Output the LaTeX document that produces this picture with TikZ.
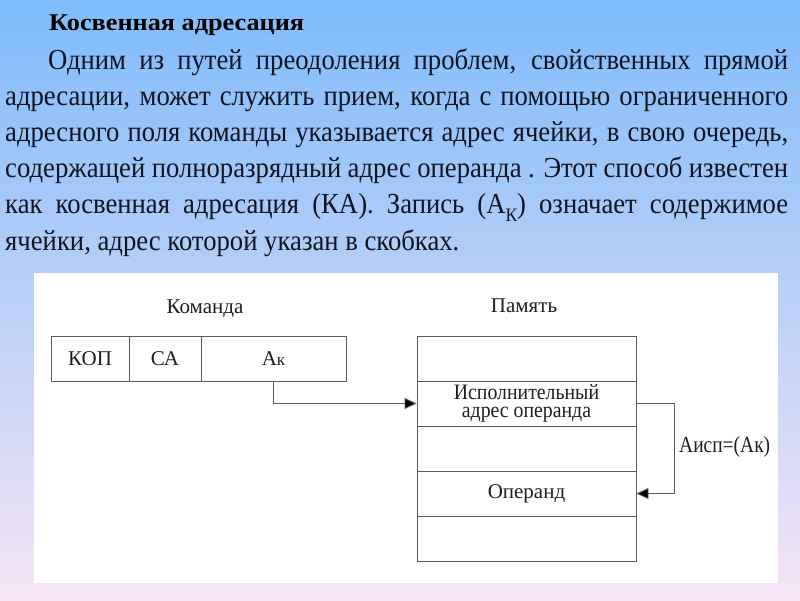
\documentclass[tikz,border=0pt]{standalone}
\usepackage{fontspec}
\usepackage{graphicx}
\setmainfont{Liberation Serif}
\newfontfamily\bodyf[FakeStretch=0.92]{Liberation Serif}
\newfontfamily\condf[FakeStretch=0.9]{Liberation Serif}
\usetikzlibrary{arrows.meta}
\definecolor{bgtop}{RGB}{126,188,250}
\definecolor{bgmid}{RGB}{180,208,240}
\definecolor{bgbot}{RGB}{246,229,246}
\definecolor{textc}{RGB}{16,20,34}
\definecolor{linec}{RGB}{90,90,90}
\definecolor{dtext}{RGB}{30,30,30}
\newcommand{\bodysize}{\bodyf\fontsize{29}{36}\selectfont}
\newcommand{\dfont}{\fontsize{21}{18}\selectfont}
\newcommand{\cfont}{\condf\fontsize{22}{17.5}\selectfont}
\begin{document}
\begin{tikzpicture}[x=1pt,y=-1pt,
  txt/.style={inner sep=0pt, anchor=base west, text=textc, font=\bodysize},
  ttl/.style={inner sep=0pt, anchor=base, text=dtext, font=\dfont},
  cell/.style={draw=linec, line width=0.9pt, minimum height=45pt, inner sep=0pt, text=dtext, font=\dfont, align=center},
  arr/.style={draw=linec, line width=0.9pt, -{Triangle[length=12pt,width=11pt,fill=black]}}
]
\useasboundingbox (0,0) rectangle (800,600);
\shade[top color=bgtop, middle color=bgmid, bottom color=bgbot] (0,0) rectangle (800,600);
\fill[white] (34,273) rectangle (778,583);

% heading and paragraph
\node[inner sep=0pt, anchor=base west, text=black] (head) at (49,30)
  {\resizebox{255pt}{\height}{\bfseries\fontsize{24}{24}\selectfont Косвенная адресация}};
\node[txt] (l1) at (48,69) {\makebox[740pt][s]{Одним из путей преодоления проблем, свойственных прямой}};
\node[txt] (l2) at (5,105.5) {\makebox[783pt][s]{адресации, может служить прием, когда с помощью ограниченного}};
\node[txt] (l3) at (5,141.5) {\makebox[783pt][s]{адресного поля команды указывается адрес ячейки, в свою очередь,}};
\node[txt] (l4) at (5,177.5) {\makebox[783pt][s]{содержащей полноразрядный адрес операнда . Этот способ известен}};
\node[txt] (l5) at (5,213.5) {\makebox[783pt][s]{как косвенная адресация (КА). Запись (А\raisebox{-0.28em}{\fontsize{19}{19}\selectfont К}) означает содержимое}};
\node[txt] (l6) at (5,250) {ячейки, адрес которой указан в скобках.};

% titles
\node[ttl] (tcmd) at (205,313) {Команда};
\node[ttl] (tmem) at (524,312) {Память};

% command register
\node[cell, minimum width=78pt] (kop) at (90,358.5) {КОП};
\node[cell, minimum width=72pt] (ca) at (165,358.5) {СА};
\node[cell, minimum width=145pt] (ak) at (273.5,358.5) {А{\fontsize{17}{17}\selectfont к}};

% memory
\node[cell, minimum width=219pt] (m1) at (526.5,358.5) {};
\node[cell, minimum width=219pt, font=\cfont] (m2) at (526.5,403.5) {Исполнительный\\адрес операнда};
\node[cell, minimum width=219pt] (m3) at (526.5,448.5) {};
\node[cell, minimum width=219pt] (m4) at (526.5,493.5) {Операнд};
\node[cell, minimum width=219pt] (m5) at (526.5,538.5) {};

% connectors
\draw[arr] (ak.south) |- (m2.west);
\draw[arr] (m2.east) -- ++(38,0) |- (m4.east);
\node[inner sep=0pt, anchor=base west, text=dtext] (lbl) at (679,452)
  {\resizebox{91pt}{\height}{\fontsize{23}{23}\selectfont Аисп=(Ак)}};
\end{tikzpicture}
\end{document}
